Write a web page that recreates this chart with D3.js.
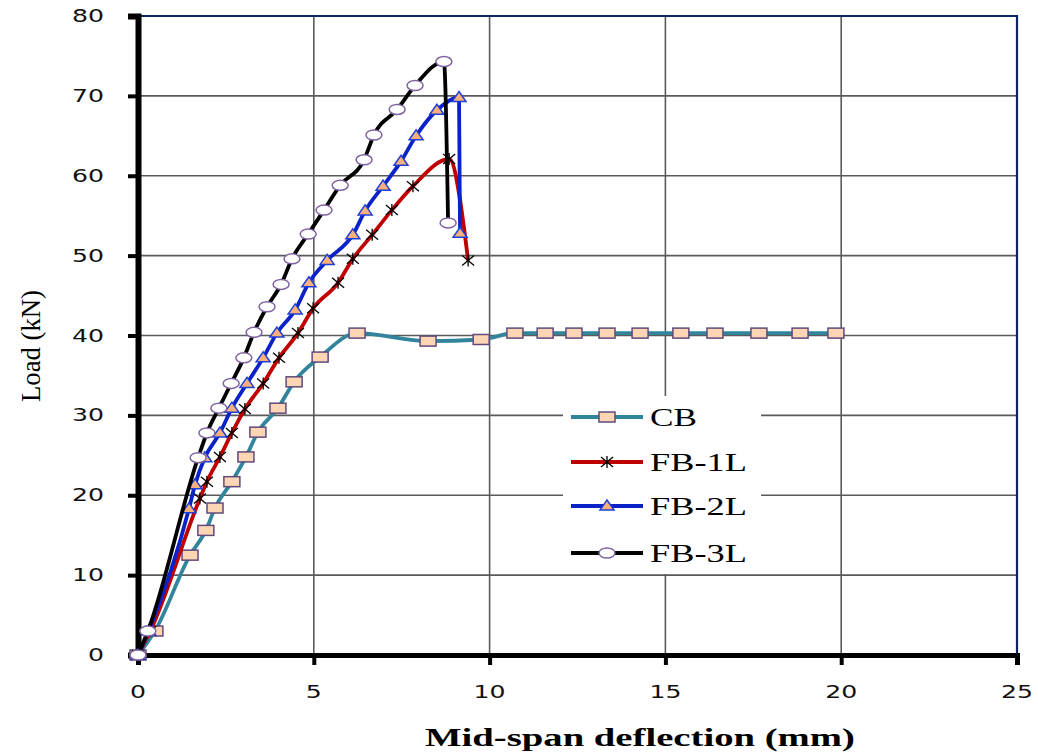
<!DOCTYPE html>
<html>
<head>
<meta charset="utf-8">
<script src="https://cdn.jsdelivr.net/npm/d3@7"></script>
<style>
  body { margin: 0; background: #fff; }
  svg { display: block; }
</style>
</head>
<body>
<svg id="chart" width="1038" height="752"></svg>
<script>
// series data: mid-span deflection (mm) vs load (kN)
const cbX = [0, 0.48, 1.48, 1.93, 2.19, 2.67, 3.07, 3.41, 3.98, 4.44, 5.18, 6.23, 8.25, 9.76,
  10.72, 11.58, 12.40, 13.34, 14.28, 15.44, 16.41, 17.66, 18.83, 19.85];
const cbY = [0, 3.0, 12.5, 15.6, 18.4, 21.7, 24.8, 27.9, 30.9, 34.2, 37.3, 40.3, 39.3, 39.5,
  40.3, 40.3, 40.3, 40.3, 40.3, 40.3, 40.3, 40.3, 40.3, 40.3];

const fb1X = [0, 0.35, 1.76, 1.96, 2.33, 2.67, 3.04, 3.56, 4.01, 4.55, 4.98, 5.69, 6.11, 6.66, 7.22, 7.82, 8.85, 9.39];
const fb1Y = [0, 3.0, 19.6, 21.7, 24.8, 27.8, 30.8, 34.0, 37.2, 40.3, 43.4, 46.6, 49.6, 52.6, 55.7, 58.7, 62.1, 49.4];

const fb2X = [0, 0.3, 1.45, 1.62, 1.90, 2.33, 2.67, 3.10, 3.56, 3.95, 4.47, 4.86, 5.38, 6.11, 6.46, 6.97, 7.48, 7.91, 8.50, 9.13, 9.16];
const fb2Y = [0, 3.0, 18.3, 21.3, 24.7, 27.8, 30.9, 34.0, 37.2, 40.3, 43.2, 46.6, 49.4, 52.6, 55.6, 58.7, 61.8, 65.0, 68.2, 69.8, 52.8];

const fb3X = [0, 0.28, 1.71, 1.96, 2.30, 2.65, 3.01, 3.30, 3.67, 4.07, 4.38, 4.84, 5.29, 5.75, 6.43, 6.71, 7.37, 7.88, 8.70, 8.82];
const fb3Y = [0, 3.0, 24.7, 27.8, 30.9, 34.0, 37.2, 40.4, 43.6, 46.4, 49.6, 52.7, 55.7, 58.8, 62.0, 65.1, 68.3, 71.3, 74.3, 54.1];

const seriesNames = ['CB', 'FB-1L', 'FB-2L', 'FB-3L'];
const xTicks = [0, 5, 10, 15, 20, 25];
const yTicks = [0, 10, 20, 30, 40, 50, 60, 70, 80];

const svg = d3.select('#chart');
const x = d3.scaleLinear().domain([0, 25]).range([138, 1017]);
const y = d3.scaleLinear().domain([0, 80]).range([655, 16]);

// gridlines
const grid = svg.append('g').attr('stroke', '#5a5a5a').attr('stroke-width', 1.6);
grid.selectAll('.gx').data(xTicks.slice(1, -1)).join('line')
  .attr('x1', d => x(d)).attr('x2', d => x(d)).attr('y1', y(80)).attr('y2', y(0));
grid.selectAll('.gy').data(yTicks.slice(1, -1)).join('line')
  .attr('y1', d => y(d)).attr('y2', d => y(d)).attr('x1', x(0)).attr('x2', x(25));

// navy frame top + right
svg.append('path')
  .attr('d', `M${x(0)},${y(80)}H${x(25)}V${y(0)}`)
  .attr('fill', 'none').attr('stroke', '#0a2466').attr('stroke-width', 2.2);

// legend background (hides gridlines under it)
svg.append('rect').attr('x', 563).attr('y', 396).attr('width', 198).attr('height', 178).attr('fill', '#fff');

// axes
const xAxis = svg.append('g').attr('transform', `translate(0,${y(0)})`)
  .call(d3.axisBottom(x).tickValues(xTicks).tickSize(10).tickFormat(''));
xAxis.select('.domain').attr('stroke', '#000').attr('stroke-width', 5);
xAxis.selectAll('.tick line').attr('stroke', '#000').attr('stroke-width', 4);

const yAxis = svg.append('g').attr('transform', `translate(${x(0)},0)`)
  .call(d3.axisLeft(y).tickValues(yTicks).tickSize(10).tickFormat(''));
yAxis.select('.domain').attr('stroke', '#000').attr('stroke-width', 6);
yAxis.selectAll('.tick line').attr('stroke', '#000').attr('stroke-width', 4);

// tick labels (stretched wide like the source image)
svg.append('g').selectAll('text').data(xTicks).join('text')
  .attr('x', d => x(d)).attr('y', 698)
  .attr('text-anchor', 'middle')
  .attr('font-family', 'DejaVu Sans').attr('font-size', 17).attr('fill', '#111')
  .attr('textLength', d => String(d).length * 16).attr('lengthAdjust', 'spacingAndGlyphs')
  .text(d => d);

svg.append('g').selectAll('text').data(yTicks).join('text')
  .attr('x', 104).attr('y', d => y(d) + 6)
  .attr('text-anchor', 'end')
  .attr('font-family', 'DejaVu Sans').attr('font-size', 17).attr('fill', '#111')
  .attr('textLength', d => String(d).length * 16).attr('lengthAdjust', 'spacingAndGlyphs')
  .text(d => d);

// axis titles
svg.append('text')
  .attr('x', 640).attr('y', 746).attr('text-anchor', 'middle')
  .attr('font-family', 'Liberation Serif').attr('font-weight', 'bold').attr('font-size', 25)
  .attr('textLength', 430).attr('lengthAdjust', 'spacingAndGlyphs')
  .text('Mid-span deflection (mm)');

svg.append('text')
  .attr('transform', 'translate(40,346) rotate(-90)')
  .attr('text-anchor', 'middle')
  .attr('font-family', 'Liberation Serif').attr('font-size', 27)
  .attr('textLength', 112).attr('lengthAdjust', 'spacingAndGlyphs')
  .text('Load (kN)');

// markers
function drawMarker(g, kind, cx, cy) {
  if (kind === 'square') {
    g.append('rect').attr('x', cx - 8).attr('y', cy - 5).attr('width', 16).attr('height', 10)
      .attr('fill', '#fcd5b4').attr('stroke', '#604a7b').attr('stroke-width', 1.5);
  } else if (kind === 'star') {
    const s = g.append('g').attr('stroke', '#000').attr('stroke-width', 1.3);
    s.append('line').attr('x1', cx - 6).attr('y1', cy - 5).attr('x2', cx + 6).attr('y2', cy + 5);
    s.append('line').attr('x1', cx - 6).attr('y1', cy + 5).attr('x2', cx + 6).attr('y2', cy - 5);
    s.append('line').attr('x1', cx).attr('y1', cy - 6).attr('x2', cx).attr('y2', cy + 6);
  } else if (kind === 'tri') {
    g.append('path').attr('d', `M${cx},${cy - 6}L${cx + 7},${cy + 4}L${cx - 7},${cy + 4}Z`)
      .attr('fill', '#fab07a').attr('stroke', '#1f3fd6').attr('stroke-width', 1.5);
  } else {
    g.append('ellipse').attr('cx', cx).attr('cy', cy).attr('rx', 8).attr('ry', 5)
      .attr('fill', '#fff').attr('stroke', '#8064a2').attr('stroke-width', 1.5);
  }
}

const series = [
  { xs: cbX, ys: cbY, color: '#31849b', marker: 'square' },
  { xs: fb1X, ys: fb1Y, color: '#c00000', marker: 'star' },
  { xs: fb2X, ys: fb2Y, color: '#0a22c8', marker: 'tri' },
  { xs: fb3X, ys: fb3Y, color: '#000000', marker: 'circle' }
];

const line = d3.line()
  .x(d => x(d[0])).y(d => y(d[1]))
  .curve(d3.curveMonotoneX);

series.forEach(s => {
  const pts = s.xs.map((v, i) => [v, s.ys[i]]);
  const g = svg.append('g');
  g.append('path').datum(pts).attr('d', line)
    .attr('fill', 'none').attr('stroke', s.color).attr('stroke-width', 3.8)
    .attr('stroke-linejoin', 'round');
  pts.forEach(p => drawMarker(g, s.marker, x(p[0]), y(p[1])));
});

// legend
const legY = [417, 462, 506, 553];
const leg = svg.append('g');
series.forEach((s, i) => {
  leg.append('line').attr('x1', 571).attr('x2', 643).attr('y1', legY[i]).attr('y2', legY[i])
    .attr('stroke', s.color).attr('stroke-width', 3.8);
  drawMarker(leg, s.marker, 607, legY[i]);
  leg.append('text').attr('x', 650).attr('y', legY[i] + 9)
    .attr('font-family', 'Liberation Serif').attr('font-size', 26).attr('fill', '#000')
    .attr('textLength', i === 0 ? 47 : 97).attr('lengthAdjust', 'spacingAndGlyphs')
    .text(seriesNames[i]);
});
</script>
</body>
</html>
